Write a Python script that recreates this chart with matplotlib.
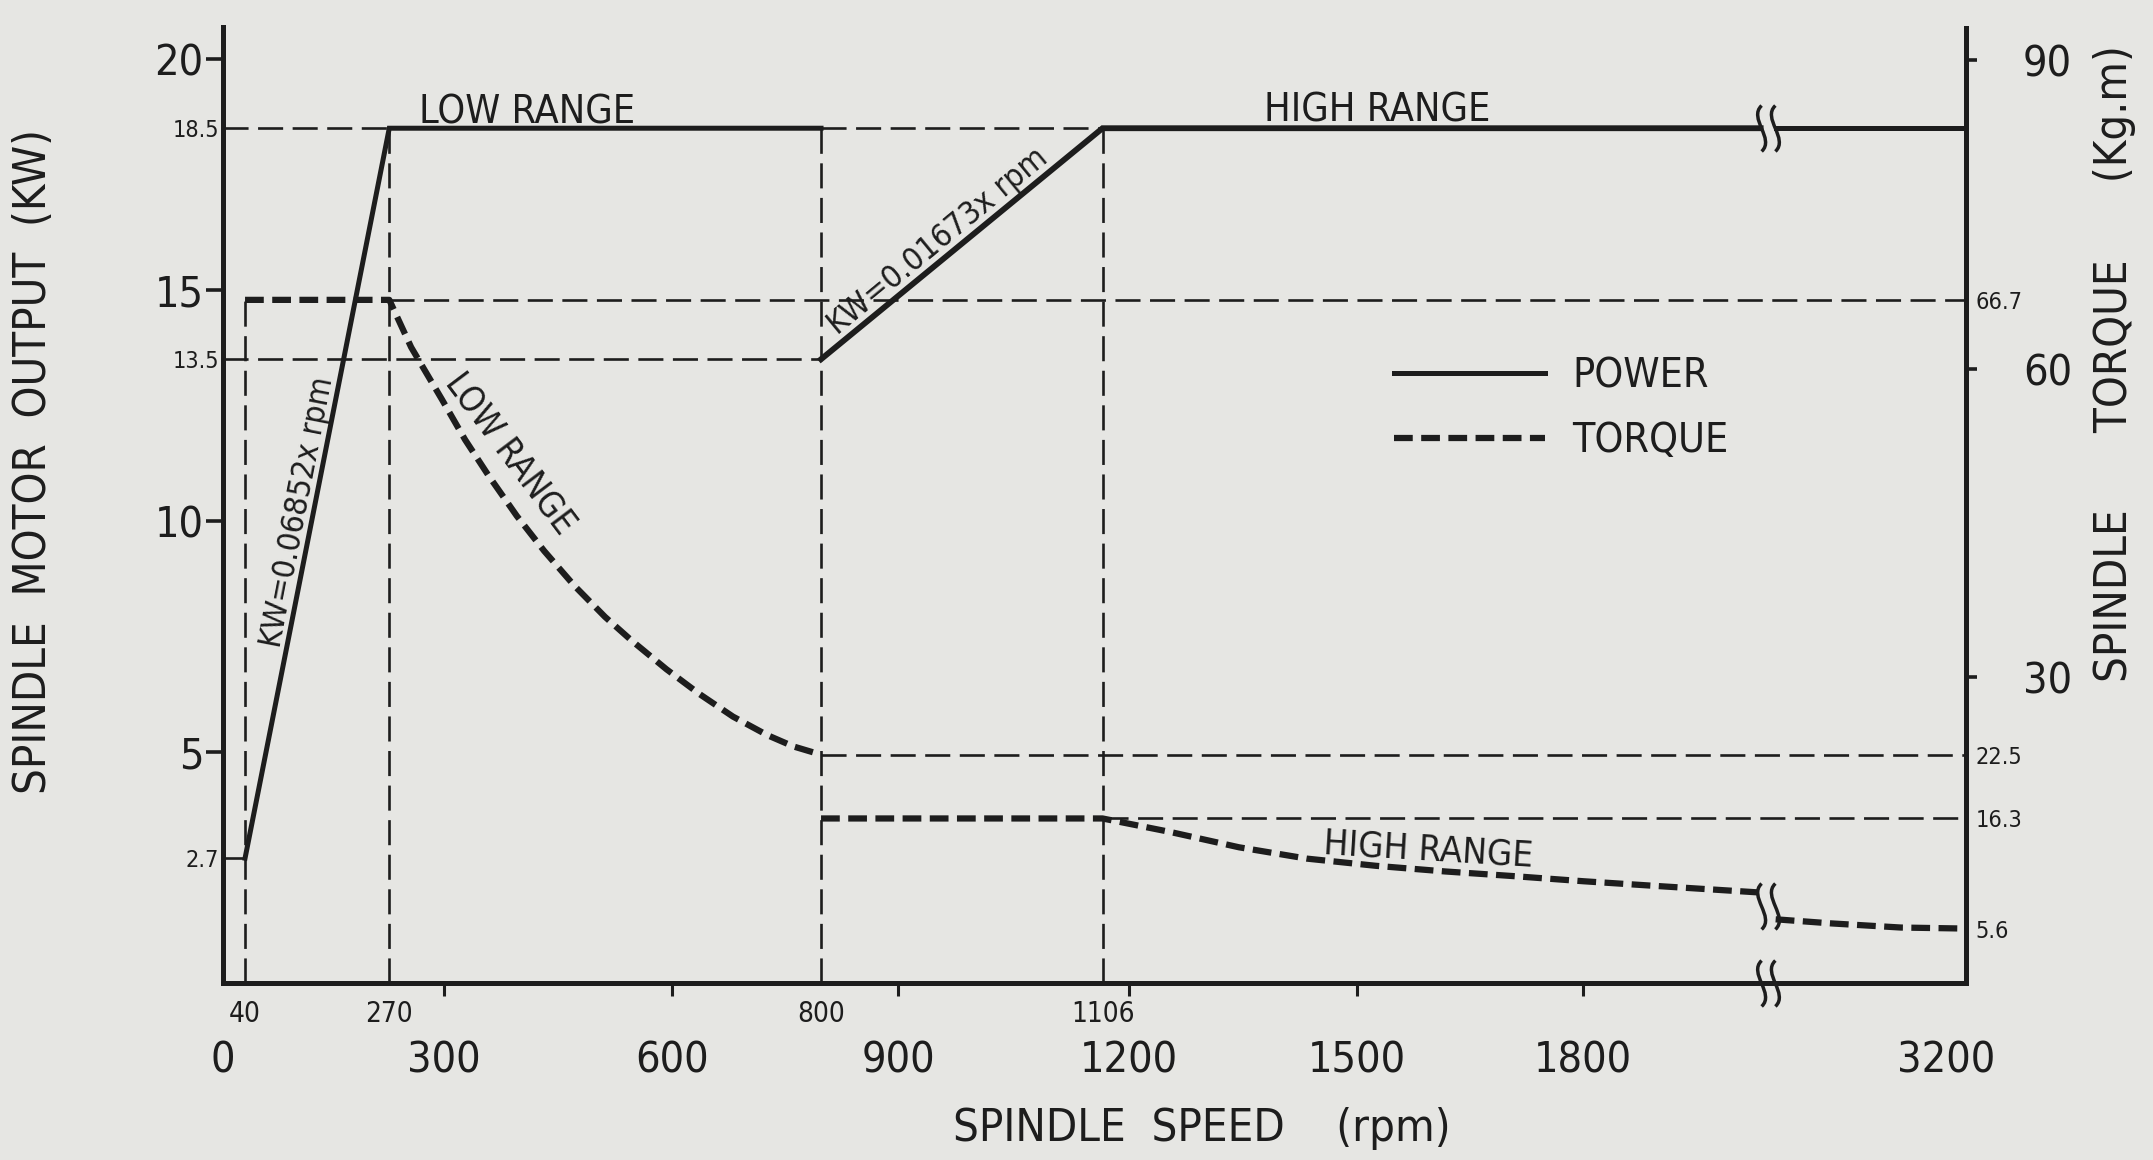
import numpy as np
import matplotlib
matplotlib.use("Agg")
import matplotlib.pyplot as plt
from matplotlib import font_manager as fm
from matplotlib.path import Path
from matplotlib.ticker import FixedLocator, FixedFormatter
from matplotlib.transforms import ScaledTranslation

# ------------------------------------------------------------------ data
x_ticks_major = [0, 300, 600, 900, 1200, 1500, 1800, 3200]
x_ticks_minor = [40, 270, 800, 1106]
kw_ticks_major = [5, 10, 15, 20]
kw_ticks_minor = [2.7, 13.5, 18.5]
torque_ticks_major = [30, 60, 90]
torque_ticks_minor = [5.6, 16.3, 22.5, 66.7]

# power (kW)
power_low_rpm = [40, 270, 800]
power_low_kw = [2.7, 18.5, 18.5]
power_high_rpm = [800, 1106, 2000]
power_high_kw = [13.5, 18.5, 18.5]
power_tail_rpm = [2700, 3200]
power_tail_kw = [18.5, 18.5]

# torque (kg.m)
torque_low_rpm = [40, 270, 282, 299, 328, 359, 396, 432, 472, 512, 547, 593,
                  637, 682, 728, 763, 800]
torque_low_kgm = [66.7, 66.7, 62.1, 57.0, 53.1, 49.6, 45.7, 42.3, 38.9, 35.9,
                  33.6, 30.8, 28.4, 26.2, 24.4, 23.3, 22.5]
torque_high_rpm = [800, 1106, 1254, 1345, 1434, 1525, 1617, 1707, 1800, 1877, 2000]
torque_high_kgm = [16.3, 16.3, 15.0, 13.5, 12.4, 11.7, 11.15, 10.7, 10.2, 9.77, 9.1]
torque_tail_rpm = [2700, 2847, 3029, 3200]
torque_tail_kgm = [6.5, 6.1, 5.7, 5.6]

# thin dashed construction lines
guide_kw_level = [18.5, 18.5, 13.5, 2.7]
guide_kw_from = [0, 800, 0, 0]
guide_kw_to = [270, 1106, 800, 40]
guide_v_rpm = [270, 800, 1106]
guide_v_top_kw = [18.5, 18.5, 18.5]
guide_torque_level = [66.7, 22.5, 16.3]
guide_torque_from = [270, 800, 1106]
guide_torque_to = [3200, 3200, 3200]
guide_v40_rpm = [40]
guide_v40_top = [66.7]

break_rpm = 2350
break_torque = 7.8
break_power = 18.5

# schematic (not-to-scale) speed axis: rpm value -> drawing position
AXIS_RPM = [0, 40, 270, 300, 600, 800, 900, 1106, 1200, 1500, 1800, 2000, 2700, 3200]
AXIS_POS = [220, 242, 386, 440.5, 668, 817, 894, 1098, 1124, 1352, 1578, 1755, 1770, 1960]

# ------------------------------------------------------------------ fonts
def pick_font():
    prefs = [("Liberation Sans Narrow", None, 1.22),
             ("DejaVu Sans", "condensed", 1.05),
             ("Roboto Condensed", None, 1.12),
             ("Open Sans Condensed", None, 1.12)]
    for name, st, fac in prefs:
        for f in fm.fontManager.ttflist:
            if f.name != name or f.style != "normal":
                continue
            if str(f.weight) not in ("400", "normal", "regular", "book"):
                continue
            if st is not None and str(f.stretch) != st:
                continue
            return f.name, str(f.stretch), fac
    return "DejaVu Sans", "normal", 1.0

FNAME, FSTRETCH, FAC = pick_font()
plt.rcParams["font.family"] = [FNAME, "DejaVu Sans"]
plt.rcParams["font.stretch"] = FSTRETCH

INK = "#1d1d1d"
PAPER = "#e6e6e3"

W, H = 2153, 1160
fig = plt.figure(figsize=(W / 100, H / 100), dpi=100, facecolor=PAPER)
x0, x1, yb, yt = 223, 1966, 983, 27.5
ax = fig.add_axes([x0 / W, 1 - yb / H, (x1 - x0) / W, (yb - yt) / H])
ax.set_facecolor("none")

fwd = lambda v: np.interp(v, AXIS_RPM, AXIS_POS)
inv = lambda p: np.interp(p, AXIS_POS, AXIS_RPM)
ax.set_xscale("function", functions=(fwd, inv))
ax.set_xlim(0, 3200)
ax.set_ylim(0, 20.68)

ax2 = ax.twinx()
ax2.set_ylim(0.31, 93.17)
ax2.patch.set_visible(False)

# spines
for a in (ax, ax2):
    for s in a.spines.values():
        s.set_visible(False)
        s.set_linewidth(3.6)
        s.set_color(INK)
ax.spines["left"].set_visible(True)
ax.spines["bottom"].set_visible(True)
ax2.spines["right"].set_visible(True)

# ------------------------------------------------------------------ lines
TH = 1.9      # thin dashed
TDASH = (9.5, 3.6)
for lv, a0, a1 in zip(guide_kw_level, guide_kw_from, guide_kw_to):
    ax.plot([a0, a1], [lv, lv], color=INK, lw=TH, dashes=TDASH, clip_on=False)
for xv, top in zip(guide_v_rpm, guide_v_top_kw):
    ax.plot([xv, xv], [0, top], color=INK, lw=TH, dashes=TDASH, clip_on=False)
for lv, a0, a1 in zip(guide_torque_level, guide_torque_from, guide_torque_to):
    ax2.plot([a0, a1], [lv, lv], color=INK, lw=TH, dashes=TDASH, clip_on=False)
for xv, top in zip(guide_v40_rpm, guide_v40_top):
    ax2.plot([xv, xv], [0.31, top], color=INK, lw=TH, dashes=TDASH, clip_on=False)

PW = 3.6
power_line, = ax.plot(power_low_rpm, power_low_kw, color=INK, lw=PW,
                      solid_joinstyle="miter", label="POWER")
ax.plot(power_high_rpm, power_high_kw, color=INK, lw=PW + 0.6, solid_joinstyle="miter")
ax.plot(power_tail_rpm, power_tail_kw, color=INK, lw=PW)

QW = 4.5
QDASH = (3.0, 1.35)
torque_line, = ax2.plot(torque_low_rpm, torque_low_kgm, color=INK, lw=QW,
                        dashes=QDASH, label="TORQUE")
ax2.plot(torque_high_rpm, torque_high_kgm, color=INK, lw=QW, dashes=QDASH)
ax2.plot(torque_tail_rpm, torque_tail_kgm, color=INK, lw=QW, dashes=QDASH)

# break symbols
def wave(xc):
    return [(xc, -1.0), (xc + 0.6, -0.45), (xc - 0.6, 0.45), (xc, 1.0)]
brk = Path(wave(-0.3) + wave(0.3),
           [Path.MOVETO, Path.CURVE4, Path.CURVE4, Path.CURVE4] * 2)
mk = dict(marker=brk, ms=33, mfc="none", mec=INK, mew=2.5, ls="none",
          clip_on=False, zorder=6)
ax.plot([break_rpm], [break_power], **mk)
ax2.plot([break_rpm], [break_torque], **mk)
ax.plot([break_rpm], [0], transform=ax.get_xaxis_transform(), **mk)

# ------------------------------------------------------------------ ticks
BIG = 29.5 * FAC
SMALL = 16 * FAC
ax.xaxis.set_major_locator(FixedLocator(x_ticks_major))
ax.xaxis.set_major_formatter(FixedFormatter([str(v) for v in x_ticks_major]))
ax.xaxis.set_minor_locator(FixedLocator(x_ticks_minor))
ax.xaxis.set_minor_formatter(FixedFormatter([str(v) for v in x_ticks_minor]))
ax.tick_params(axis="x", which="major", direction="out", length=9, width=2.2,
               color=INK, labelcolor=INK, labelsize=BIG, pad=32)
ax.tick_params(axis="x", which="minor", length=0, labelcolor=INK,
               labelsize=19 * FAC, pad=12)

ax.yaxis.set_major_locator(FixedLocator(kw_ticks_major))
ax.yaxis.set_major_formatter(FixedFormatter([str(v) for v in kw_ticks_major]))
ax.yaxis.set_minor_locator(FixedLocator(kw_ticks_minor))
ax.yaxis.set_minor_formatter(FixedFormatter([str(v) for v in kw_ticks_minor]))
ax.tick_params(axis="y", which="major", direction="out", length=12, width=2.6,
               color=INK, labelcolor=INK, labelsize=BIG, pad=2)
ax.tick_params(axis="y", which="minor", length=0, labelcolor=INK,
               labelsize=SMALL, pad=3)

ax2.yaxis.set_major_locator(FixedLocator(torque_ticks_major))
ax2.yaxis.set_major_formatter(FixedFormatter([str(v) for v in torque_ticks_major]))
ax2.yaxis.set_minor_locator(FixedLocator(torque_ticks_minor))
ax2.yaxis.set_minor_formatter(FixedFormatter([str(v) for v in torque_ticks_minor]))
ax2.tick_params(axis="y", which="major", direction="out", length=8, width=2.6,
                color=INK, labelcolor=INK, labelsize=BIG, pad=33)
ax2.tick_params(axis="y", which="minor", length=0, labelcolor=INK,
                labelsize=SMALL, pad=7)

mt = ax.xaxis.get_major_ticks()
mt[0].tick1line.set_visible(False)
mt[-1].tick1line.set_visible(False)
lab = mt[-1].label1
lab.set_transform(lab.get_transform() + ScaledTranslation(-0.2, 0, fig.dpi_scale_trans))

# ------------------------------------------------------------------ texts
ax.text(410, 18.6, "LOW RANGE", ha="center", va="baseline", fontsize=27 * FAC, color=INK)
ax.text(1527, 18.65, "HIGH RANGE", ha="center", va="baseline", fontsize=27 * FAC, color=INK)
ax.text(125, 10.2, "KW=0.06852x rpm", rotation=79, rotation_mode="anchor",
        ha="center", va="center", fontsize=22 * FAC, color=INK)
ax.text(940, 16.05, "KW=0.01673x rpm", rotation=39.5, rotation_mode="anchor",
        ha="center", va="center", fontsize=22 * FAC, color=INK)
ax2.text(388, 51.8, "LOW RANGE", rotation=-53, rotation_mode="anchor",
         ha="center", va="center", fontsize=24 * FAC, color=INK)
ax2.text(1594, 13.2, "HIGH RANGE", rotation=-3.5, rotation_mode="anchor",
         ha="center", va="center", fontsize=25 * FAC, color=INK)

fig.text(34 / W, 1 - 462 / H, "SPINDLE  MOTOR  OUTPUT  (KW)", rotation=90,
         ha="center", va="center", fontsize=31 * FAC, color=INK)
fig.text(2115 / W, 1 - 364 / H, "SPINDLE      TORQUE      (Kg.m)", rotation=90,
         ha="center", va="center", fontsize=31 * FAC, color=INK)
fig.text(1202 / W, 1 - 1129 / H, "SPINDLE  SPEED    (rpm)",
         ha="center", va="center", fontsize=31 * FAC, color=INK)

LFS = 28 * FAC
lpx = LFS * 100 / 72
leg = ax2.legend([power_line, torque_line], ["POWER", "TORQUE"],
                 loc="upper left", bbox_to_anchor=(1394 / W, 1 - 356 / H),
                 bbox_transform=fig.transFigure, frameon=False, fontsize=LFS,
                 handlelength=151 / lpx, handletextpad=27 / lpx,
                 labelspacing=0.62, borderpad=0, borderaxespad=0)
for t in leg.get_texts():
    t.set_color(INK)

fig.savefig("out.png", dpi=100, facecolor=PAPER)
